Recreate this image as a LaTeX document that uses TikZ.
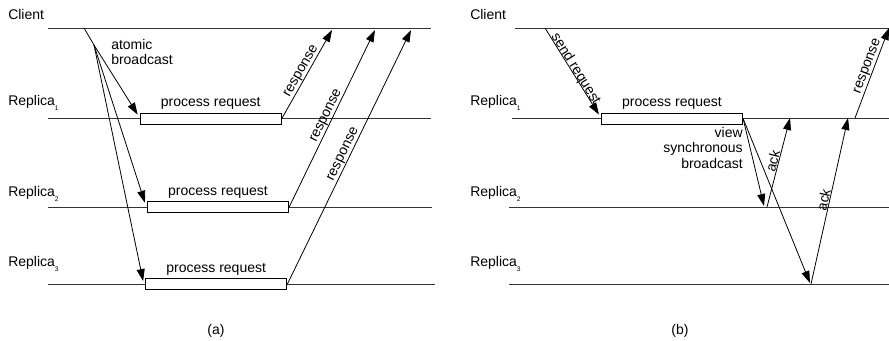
\documentclass[tikz,border=0pt]{standalone}
\usepackage{fontspec}
\setmainfont{Liberation Sans}
\usetikzlibrary{arrows.meta}

\tikzset{
  msg/.style={-{Triangle[length=9pt,width=6pt]}, line width=0.6pt},
  lifeline/.style={line width=0.6pt, draw=black!80},
  procbox/.style={draw, line width=0.6pt, fill=white, minimum width=106pt, minimum height=8.25pt, inner sep=0pt},
  lbl/.style={font=\fontsize{10.5}{11.6}\selectfont, inner sep=0.75pt},
}
\newcommand{\replica}[1]{Replica\raisebox{-0.8ex}{\fontsize{5}{5}\selectfont #1}}

\begin{document}
\begin{tikzpicture}[x=0.75pt,y=-0.75pt]
    \useasboundingbox (0,0) rectangle (889,340);

    %Lifelines (a)
    \coordinate (ac-l) at (48,28);   \coordinate (ac-r) at (431,28);
    \coordinate (a1-l) at (48,118);  \coordinate (a1-r) at (431,118);
    \coordinate (a2-l) at (48,207);  \coordinate (a2-r) at (432,207);
    \coordinate (a3-l) at (48,284);  \coordinate (a3-r) at (435,284);
    \draw [lifeline] (ac-l) -- (ac-r);
    \draw [lifeline] (a1-l) -- (a1-r);
    \draw [lifeline] (a2-l) -- (a2-r);
    \draw [lifeline] (a3-l) -- (a3-r);

    %Lifelines (b)
    \coordinate (bc-l) at (515,28);  \coordinate (bc-r) at (889,28);
    \coordinate (b1-l) at (512,118); \coordinate (b1-r) at (889,118);
    \coordinate (b2-l) at (509,207); \coordinate (b2-r) at (889,207);
    \coordinate (b3-l) at (509,284); \coordinate (b3-r) at (889,284);
    \draw [lifeline] (bc-l) -- (bc-r);
    \draw [lifeline] (b1-l) -- (b1-r);
    \draw [lifeline] (b2-l) -- (b2-r);
    \draw [lifeline] (b3-l) -- (b3-r);

    % Text Node
    \node [lbl, anchor=base west] (a-client) at (7,19) {Client};
    \node [lbl, anchor=base west] (a-rep1) at (7,105) {\replica{1}};
    \node [lbl, anchor=base west] (a-rep2) at (7,196) {\replica{2}};
    \node [lbl, anchor=base west] (a-rep3) at (7,266) {\replica{3}};
    \node [lbl, anchor=base west] (b-client) at (469,19) {Client};
    \node [lbl, anchor=base west] (b-rep1) at (469,105) {\replica{1}};
    \node [lbl, anchor=base west] (b-rep2) at (469,196) {\replica{2}};
    \node [lbl, anchor=base west] (b-rep3) at (469,266) {\replica{3}};

    %Shape: process boxes
    \node [procbox] (pa1) at (210.75,118.5) {};
    \node [procbox] (pa2) at (218,207.25) {};
    \node [procbox] (pa3) at (216.2,284.3) {};
    \node [procbox] (pb1) at (672,118.5) {};
    \node [lbl, anchor=south, inner sep=2pt] (pa1-t) at (pa1.north) {process request};
    \node [lbl, anchor=south, inner sep=2pt] (pa2-t) at (pa2.north) {process request};
    \node [lbl, anchor=south, inner sep=2pt] (pa3-t) at (pa3.north) {process request};
    \node [lbl, anchor=south, inner sep=2pt] (pb1-t) at (pb1.north) {process request};

    %Arrows: atomic broadcast (a)
    \coordinate (a-send) at (84,28);
    \coordinate (a-fork) at (94,45);
    \draw [line width=0.6pt] (a-send) -- (a-fork);
    \draw [msg] (a-fork) -- ([xshift=-1.5pt,yshift=-1.5pt]pa1.north west);
    \draw [msg] (a-fork) -- ([xshift=-1.5pt,yshift=-1pt]pa2.north west);
    \draw [msg] (a-fork) -- ([xshift=-1.5pt,yshift=-2pt]pa3.north west);
    \node [lbl, anchor=north west, align=left] (a-bc) at (110,38) {atomic\\broadcast};

    %Arrows: responses (a)
    \coordinate (a-resp1) at (332,30);
    \coordinate (a-resp2) at (375,30);
    \coordinate (a-resp3) at (411,30);
    \draw [msg] (pa1.east) -- node [lbl, sloped, above, inner sep=0.3pt] (a-r1) {response} (a-resp1);
    \draw [msg] (pa2.east) -- node [lbl, sloped, above, inner sep=0.3pt] (a-r2) {response} (a-resp2);
    \draw [msg] (pa3.east) -- node [lbl, sloped, above, inner sep=0.3pt] (a-r3) {response} (a-resp3);

    %Arrows: send request (b)
    \coordinate (b-send) at (545,28);
    \draw [msg] (b-send) -- node [lbl, sloped, above, inner sep=0pt, yshift=-2pt] (b-sr) {send request} ([xshift=-1.5pt,yshift=-1.5pt]pb1.north west);

    %Arrows: view synchronous broadcast (b)
    \coordinate (b-v2) at (764,206);
    \coordinate (b-v3) at (810,283);
    \draw [msg] (pb1.east) -- (b-v2);
    \draw [msg] (pb1.east) -- (b-v3);
    \node [lbl, anchor=north east, align=right] (b-vsb) at (744,126) {view\\synchronous\\broadcast};

    %Arrows: acks and response (b)
    \coordinate (b-a2) at (767,207);
    \coordinate (b-a2t) at (790,118);
    \coordinate (b-a3) at (811,284);
    \coordinate (b-a3t) at (848,118);
    \coordinate (b-r1) at (855,118);
    \coordinate (b-r1t) at (889,28);
    \draw [msg] (b-a2) -- node [lbl, sloped, above, inner sep=0.3pt] (b-ack2) {ack} (b-a2t);
    \draw [msg] (b-a3) -- node [lbl, sloped, above, inner sep=0.3pt] (b-ack3) {ack} (b-a3t);
    \draw [msg] (b-r1) -- node [lbl, sloped, above, inner sep=0.3pt, pos=0.55] (b-resp) {response} (b-r1t);

    % Text Node: captions
    \node [lbl] (cap-a) at (216,331) {(a)};
    \node [lbl] (cap-b) at (680,331) {(b)};

\end{tikzpicture}
\end{document}
